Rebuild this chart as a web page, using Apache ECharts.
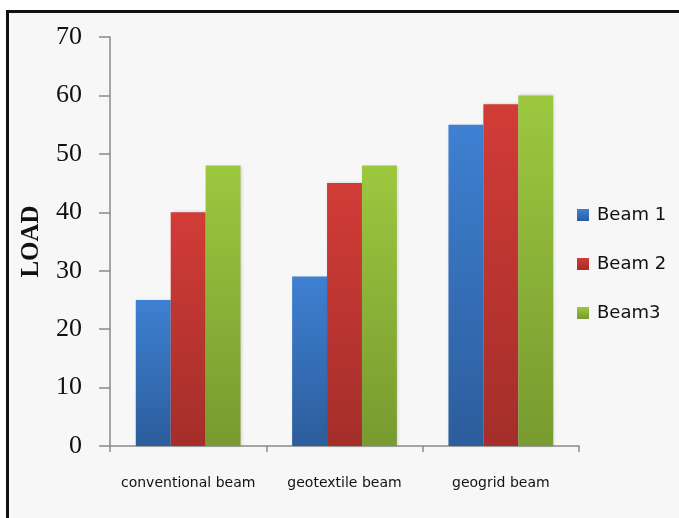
<!DOCTYPE html>
<html>
<head>
<meta charset="utf-8">
<style>
  html, body { margin: 0; padding: 0; background: #ffffff; }
  #chart { width: 679px; height: 518px; }
</style>
<script src="https://cdn.jsdelivr.net/npm/echarts@6/dist/echarts.min.js"></script>
</head>
<body>
<div id="chart"></div>
<script>
// Beam types along the horizontal axis
const categories = ['conventional beam', 'geotextile beam', 'geogrid beam'];

// Load carried by each beam specimen
const beam1 = [25, 29, 55];
const beam2 = [40, 45, 58.5];
const beam3 = [48, 48, 60];

const seriesNames = ['Beam 1', 'Beam 2', 'Beam3'];

// Vertical gradient used to shade each bar
function shade(top, bottom) {
  return new echarts.graphic.LinearGradient(0, 0, 0, 1, [
    { offset: 0, color: top },
    { offset: 1, color: bottom }
  ]);
}

const palette = [
  shade('#3e80d2', '#2c5d9c'),
  shade('#d23c37', '#a42e2a'),
  shade('#9cc83f', '#789a30')
];

function barSeries(name, data, color) {
  return {
    name: name,
    type: 'bar',
    data: data,
    barGap: '0%',
    barCategoryGap: '33%',
    itemStyle: {
      color: color,
      shadowColor: 'rgba(0,0,0,0.18)',
      shadowBlur: 3,
      shadowOffsetX: 1,
      shadowOffsetY: 0
    }
  };
}

const chart = echarts.init(document.getElementById('chart'), null, { renderer: 'canvas' });

chart.setOption({
  backgroundColor: '#ffffff',
  animation: false,
  graphic: [{
    type: 'rect',
    z: -10,
    silent: true,
    shape: { x: 7.5, y: 11.5, width: 720, height: 560 },
    style: { fill: '#f7f7f7', stroke: '#111111', lineWidth: 3 }
  }],
  grid: {
    left: 110,
    right: 100,
    top: 37,
    bottom: 72,
    containLabel: false,
    outerBoundsMode: 'none'
  },
  legend: {
    orient: 'vertical',
    left: 572,
    top: 201,
    itemWidth: 12,
    itemHeight: 12,
    itemGap: 31,
    icon: 'rect',
    data: seriesNames,
    textStyle: {
      fontFamily: 'DejaVu Sans',
      fontSize: 18,
      lineHeight: 18,
      color: '#111111',
      padding: [0, 0, 0, 3]
    }
  },
  xAxis: {
    type: 'category',
    data: categories,
    axisLine: { show: true, lineStyle: { color: '#8a8a8a', width: 1.5 } },
    axisTick: { show: true, interval: 0, length: 6, alignWithLabel: false, lineStyle: { color: '#8a8a8a', width: 1.5 } },
    axisLabel: {
      interval: 0,
      margin: 30,
      fontFamily: 'DejaVu Sans',
      fontSize: 14,
      color: '#111111'
    },
    splitLine: { show: false }
  },
  yAxis: {
    type: 'value',
    min: 0,
    max: 70,
    interval: 10,
    name: 'LOAD',
    nameLocation: 'middle',
    nameRotate: 90,
    nameGap: 66,
    nameTextStyle: {
      fontFamily: 'Liberation Serif',
      fontWeight: 'bold',
      fontSize: 25,
      color: '#111111'
    },
    axisLine: { show: true, lineStyle: { color: '#8a8a8a', width: 1.5 } },
    axisTick: { show: true, inside: false, length: 11, lineStyle: { color: '#8a8a8a', width: 1.5 } },
    axisLabel: {
      margin: 28,
      fontFamily: 'Liberation Serif',
      fontSize: 26,
      color: '#111111'
    },
    splitLine: { show: false }
  },
  series: [
    barSeries(seriesNames[0], beam1, palette[0]),
    barSeries(seriesNames[1], beam2, palette[1]),
    barSeries(seriesNames[2], beam3, palette[2])
  ]
});
</script>
</body>
</html>
